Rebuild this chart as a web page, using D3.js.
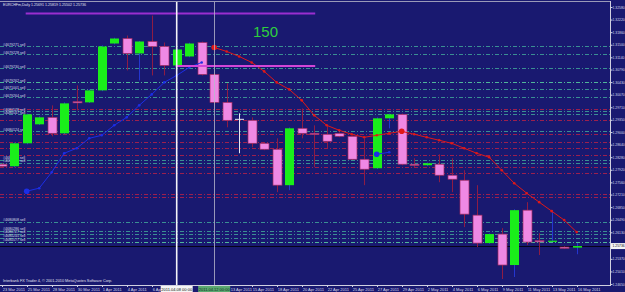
<!DOCTYPE html>
<html>
<head>
<meta charset="utf-8">
<script src="https://cdn.jsdelivr.net/npm/d3@7"></script>
<style>
  body { margin: 0; background: #191970; }
  svg { display: block; font-family: "Liberation Sans", "DejaVu Sans", sans-serif; }
</style>
</head>
<body>
<div id="chart"></div>
<script>
var width = 625,
    height = 292;

// one label per daily bar (the broker has Sunday bars)
var days = ["23 Mar 2011","24 Mar 2011","25 Mar 2011","27 Mar 2011","28 Mar 2011","29 Mar 2011","30 Mar 2011","31 Mar 2011",
  "1 Apr 2011","3 Apr 2011","4 Apr 2011","5 Apr 2011","6 Apr 2011","7 Apr 2011","8 Apr 2011","10 Apr 2011","11 Apr 2011",
  "12 Apr 2011","13 Apr 2011","14 Apr 2011","15 Apr 2011","17 Apr 2011","18 Apr 2011","19 Apr 2011","20 Apr 2011",
  "21 Apr 2011","22 Apr 2011","24 Apr 2011","25 Apr 2011","26 Apr 2011","27 Apr 2011","28 Apr 2011","29 Apr 2011",
  "1 May 2011","2 May 2011","3 May 2011","4 May 2011","5 May 2011","6 May 2011","8 May 2011","9 May 2011","10 May 2011",
  "11 May 2011","12 May 2011","13 May 2011","15 May 2011","16 May 2011"];

var opens = [1.28079,1.28021,1.28678,1.29221,1.29421,1.28964,1.29870,1.29850,1.30193,1.31535,1.31678,1.31250,1.31593,1.31450,
  1.30907,1.31164,1.31564,1.30650,1.29850,1.29364,1.29336,1.28678,1.28507,1.27479,1.29107,1.28964,1.28936,1.28964,1.28878,
  1.28221,1.27964,1.29393,1.29507,1.28079,1.28050,1.28079,1.27764,1.27621,1.26621,1.25821,1.26079,1.25193,1.26764,1.25890,
  1.25879,1.25707,1.25691];
var highs = [1.28107,1.28700,1.29530,1.29450,1.29764,1.29850,1.30336,1.30220,1.31480,1.31700,1.31764,1.31610,1.32335,1.31564,
  1.31390,1.31560,1.31590,1.30680,1.30393,1.29536,1.29421,1.28700,1.28821,1.29130,1.29678,1.29193,1.29193,1.28990,1.28900,
  1.28821,1.29420,1.29530,1.29530,1.28250,1.28130,1.28364,1.28250,1.27907,1.27479,1.26100,1.26250,1.26790,1.26993,1.26107,
  1.26764,1.25730,1.25819];
var lows = [1.27993,1.27990,1.28650,1.29200,1.28878,1.28936,1.29621,1.29830,1.30170,1.31510,1.30764,1.30478,1.30621,1.30621,
  1.30880,1.31140,1.30620,1.29820,1.29136,1.28393,1.28564,1.28480,1.27279,1.27336,1.28821,1.27993,1.28536,1.28850,1.28200,
  1.27479,1.27940,1.29107,1.28050,1.27993,1.28030,1.27564,1.27279,1.26279,1.25707,1.25800,1.24793,1.24850,1.25764,1.25479,
  1.25860,1.25650,1.25502];
var closes = [1.28021,1.28678,1.29507,1.29421,1.28964,1.29821,1.29850,1.30193,1.31450,1.31678,1.31250,1.31593,1.31450,1.30907,
  1.31364,1.31535,1.30650,1.29850,1.29336,1.29364,1.28678,1.28507,1.27479,1.29107,1.28964,1.28936,1.28736,1.28878,1.28221,
  1.27936,1.29393,1.29507,1.28079,1.28050,1.28107,1.27764,1.27650,1.26650,1.25821,1.26079,1.25193,1.26764,1.25850,1.25879,
  1.25890,1.25679,1.25736];

// indicator lines (first bar index, values)
var redStart = 17;
var redLine = [1.31421,1.31307,1.31164,1.30993,1.30736,1.30421,1.30221,1.29907,1.29478,1.29193,1.29050,1.28936,1.28850,
  1.28907,1.28964,1.29021,1.28936,1.28850,1.28764,1.28678,1.28536,1.28393,1.28279,1.27907,1.27536,1.27250,1.26993,1.26736,
  1.26479,1.26136];
var blueStart = 2;
var blueLine = [1.27307,1.27393,1.27850,1.28393,1.28536,1.28821,1.28907,1.29193,1.29421,1.29764,1.30078,1.30421,1.30621,
  1.30850,1.30993];
var blueStart2 = 30;
var blueLine2 = [1.28364,1.28421];

// open sell orders and their stops
var sellLevels = [1.31450,1.31221,1.30821,1.30421,1.30221,1.29993,1.29593,1.29507,1.29021,1.28193,1.28107,1.26421,1.26164,
  1.26079,1.25964,1.25850];
var sellTickets = ["#4679271 sell","#4679228 sell","#4679230 sell","#4679262 sell","#4671001 sell","#4679264 sell",
  "#4680528 sell","#4680547 sell","#4680124 sell","#4680112 sell","#4680045 sell","#4680808 sell","#4680286 sell",
  "#4680727 sell","#4680245 sell","#4680577 sell"];
var stopLevels = [1.29650,1.29336,1.28936,1.28707,1.28536,1.28336,1.27993,1.27821,1.27221,1.27136];

// trend lines: [from bar, to bar, price]
var trendLines = [[2, 25, 1.32393], [14, 25, 1.30893]];

var priceTicks = [1.32580,1.32220,1.31860,1.31500,1.31140,1.30790,1.30430,1.30070,1.29710,1.29350,1.29000,1.28640,
  1.28280,1.27920,1.27560,1.27210,1.26850,1.26490,1.26130,1.25370,1.25010,1.24650];

var title = "EURCHFm,Daily 1.25691 1.25819 1.25502 1.25736";
var lastPrice = 1.25736;

var svg = d3.select("#chart")
  .append("svg")
  .attr("width", width)
  .attr("height", height);

svg.append("rect").attr("width", width).attr("height", height).attr("fill", "#191970");

svg.append("defs").append("clipPath").attr("id", "clip")
  .append("rect").attr("x", 0).attr("y", 2).attr("width", 610).attr("height", 283);

var x = d3.scaleLinear().domain([0, 46]).range([1.7, 576.7]);
var y = d3.scaleLinear().domain([1.24650, 1.32580]).range([284, 7]);

var bars = d3.range(opens.length).map(function(i) {
  return { i: i, o: opens[i], h: highs[i], l: lows[i], c: closes[i] };
});

var g = svg.append("g").attr("clip-path", "url(#clip)");

// order lines
g.selectAll(".stop")
  .data(stopLevels)
  .enter()
  .append("line")
  .attr("x1", 0).attr("x2", 610)
  .attr("y1", function(d) { return Math.round(y(d)) + 0.5; })
  .attr("y2", function(d) { return Math.round(y(d)) + 0.5; })
  .attr("stroke", "#9c1f4e")
  .attr("stroke-dasharray", "4,2,1,2");

g.selectAll(".sell")
  .data(sellLevels)
  .enter()
  .append("line")
  .attr("x1", 0).attr("x2", 610)
  .attr("y1", function(d) { return Math.round(y(d)) + 0.5; })
  .attr("y2", function(d) { return Math.round(y(d)) + 0.5; })
  .attr("stroke", function(d, i) { return (i == 3 || i == 15) ? "#4fb79a" : "#3a8f93"; })
  .attr("stroke-dasharray", "4,2,1,2");

g.selectAll(".ticket")
  .data(sellLevels)
  .enter()
  .append("text")
  .attr("x", 3)
  .attr("y", function(d) { return y(d) - 0.8; })
  .attr("font-size", "3.6px")
  .attr("fill", "#d8d8e8")
  .text(function(d, i) { return sellTickets[i]; });

// bid line
g.append("line")
  .attr("x1", 0).attr("x2", 610)
  .attr("y1", Math.round(y(lastPrice)) + 0.5).attr("y2", Math.round(y(lastPrice)) + 0.5)
  .attr("stroke", "#05051a");

// wicks
g.selectAll(".wick")
  .data(bars)
  .enter()
  .append("line")
  .attr("x1", function(d) { return Math.round(x(d.i)) + 0.5; })
  .attr("x2", function(d) { return Math.round(x(d.i)) + 0.5; })
  .attr("y1", function(d) { return y(d.h); })
  .attr("y2", function(d) { return y(d.l); })
  .attr("stroke", function(d) {
    if (d.c == d.o) { return "#e8e8f0"; }
    return d.c > d.o ? "#2436d0" : "#8e1c44";
  });

// bodies
g.selectAll(".body")
  .data(bars.filter(function(d) { return d.c != d.o; }))
  .enter()
  .append("rect")
  .attr("x", function(d) { return Math.round(x(d.i)) - 4; })
  .attr("width", 9)
  .attr("y", function(d) { return y(Math.max(d.o, d.c)); })
  .attr("height", function(d) { return Math.max(1.2, y(Math.min(d.o, d.c)) - y(Math.max(d.o, d.c))); })
  .attr("fill", function(d) { return d.c > d.o ? "#1aee1a" : "#ef88e4"; })
  .attr("stroke", function(d) { return d.c > d.o ? "none" : "#a02a60"; })
  .attr("stroke-width", 0.7);

// doji
g.selectAll(".doji")
  .data(bars.filter(function(d) { return d.c == d.o; }))
  .enter()
  .append("line")
  .attr("x1", function(d) { return Math.round(x(d.i)) - 4; })
  .attr("x2", function(d) { return Math.round(x(d.i)) + 5; })
  .attr("y1", function(d) { return y(d.c); })
  .attr("y2", function(d) { return y(d.c); })
  .attr("stroke", "#e8e8f0");

// indicator lines
function drawLine(start, values, color) {
  var pts = values.map(function(v, k) { return [x(start + k), y(v)]; });
  g.append("path")
    .datum(pts)
    .attr("d", d3.line())
    .attr("fill", "none")
    .attr("stroke", color)
    .attr("stroke-width", 1);
  g.selectAll(null)
    .data(pts)
    .enter()
    .append("circle")
    .attr("cx", function(d) { return d[0]; })
    .attr("cy", function(d) { return d[1]; })
    .attr("r", function(d, k) { return k == 0 ? 2.8 : 1.3; })
    .attr("fill", color);
}
drawLine(blueStart, blueLine, "#1c2ee6");
drawLine(blueStart2, blueLine2, "#1c2ee6");
drawLine(redStart, redLine, "#e01818");

g.append("circle")
  .attr("cx", x(32)).attr("cy", y(redLine[32 - redStart]))
  .attr("r", 2.8).attr("fill", "#e01818");

// trend lines
g.selectAll(".trend")
  .data(trendLines)
  .enter()
  .append("line")
  .attr("x1", function(d) { return x(d[0]) - 1; })
  .attr("x2", function(d) { return x(d[1]) + 1; })
  .attr("y1", function(d) { return y(d[2]); })
  .attr("y2", function(d) { return y(d[2]); })
  .attr("stroke", function(d, i) { return i == 0 ? "#9a2ed0" : "#d246d8"; })
  .attr("stroke-width", 2);

// vertical lines
g.append("line")
  .attr("x1", Math.round(x(17)) + 0.5).attr("x2", Math.round(x(17)) + 0.5)
  .attr("y1", 2).attr("y2", 285)
  .attr("stroke", "#b8b8cc").attr("stroke-width", 0.8);
g.append("line")
  .attr("x1", x(14)).attr("x2", x(14))
  .attr("y1", 2).attr("y2", 285)
  .attr("stroke", "#f4f4f8").attr("stroke-width", 1.6);

svg.append("text")
  .attr("x", 253).attr("y", 37)
  .attr("font-size", "15px")
  .attr("fill", "#2ecf3e")
  .text("150");

// frame
svg.append("line").attr("x1", 0).attr("x2", 610).attr("y1", 1.5).attr("y2", 1.5).attr("stroke", "#9a9ab8");
svg.append("line").attr("x1", 0).attr("x2", 610).attr("y1", 285.5).attr("y2", 285.5).attr("stroke", "#d0d0e0");
svg.append("line").attr("x1", 610.5).attr("x2", 610.5).attr("y1", 1).attr("y2", 286).attr("stroke", "#d0d0e0");

// price axis
var yAxis = d3.axisRight(y)
  .tickValues(priceTicks)
  .tickSize(2)
  .tickFormat(d3.format(".5f"));

var ya = svg.append("g")
  .attr("transform", "translate(610.5,0)")
  .call(yAxis);
ya.select(".domain").remove();
ya.selectAll("line").attr("stroke", "#d0d0e0");
ya.selectAll("text")
  .attr("font-size", "3.4px")
  .attr("fill", "#d8d8e8")
  .attr("x", 2)
  .attr("font-family", "Liberation Sans, sans-serif");

var ly = y(lastPrice);
svg.append("rect")
  .attr("x", 611).attr("y", ly - 3).attr("width", 14).attr("height", 6)
  .attr("fill", "#f4f4f4");
svg.append("text")
  .attr("x", 612.5).attr("y", ly + 1.3)
  .attr("font-size", "3.4px")
  .attr("fill", "#111")
  .text(d3.format(".5f")(lastPrice));

// time axis (labels under the two date boxes are hidden, as in the terminal)
var dateIdx = d3.range(0, days.length, 2).filter(function(d) { return d != 14 && d != 16; });
var ta = svg.append("g");
ta.selectAll("line")
  .data(dateIdx)
  .enter()
  .append("line")
  .attr("x1", function(d) { return Math.round(x(d)) + 0.5; })
  .attr("x2", function(d) { return Math.round(x(d)) + 0.5; })
  .attr("y1", 285).attr("y2", 287)
  .attr("stroke", "#d0d0e0");
ta.selectAll("text")
  .data(dateIdx)
  .enter()
  .append("text")
  .attr("x", function(d) { return d == 18 ? x(d) + 4 : x(d) + 1; })
  .attr("y", 290.5)
  .attr("font-size", "4px")
  .attr("fill", "#d8d8e8")
  .text(function(d) { return days[d]; });

svg.append("rect")
  .attr("x", x(14) - 16).attr("y", 286).attr("width", 32).attr("height", 6)
  .attr("fill", "#f4f4f4");
svg.append("text")
  .attr("x", x(14)).attr("y", 290.5)
  .attr("text-anchor", "middle")
  .attr("font-size", "4px")
  .attr("fill", "#111")
  .text("2011.04.08 00:00");
svg.append("rect")
  .attr("x", x(17) - 16).attr("y", 286).attr("width", 32).attr("height", 6)
  .attr("fill", "#5aa870");
svg.append("text")
  .attr("x", x(17)).attr("y", 290.5)
  .attr("text-anchor", "middle")
  .attr("font-size", "4px")
  .attr("fill", "#10301a")
  .text("2011.04.12 00:00");

// labels
svg.append("text")
  .attr("x", 3).attr("y", 6)
  .attr("font-size", "3.6px")
  .attr("fill", "#e0e0ee")
  .text(title);
svg.append("text")
  .attr("x", 3).attr("y", 282)
  .attr("font-size", "3.8px")
  .attr("fill", "#e0e0ee")
  .text("Interbank FX Trader 4, \u00a9 2001-2010 MetaQuotes Software Corp.");
</script>
</body>
</html>
